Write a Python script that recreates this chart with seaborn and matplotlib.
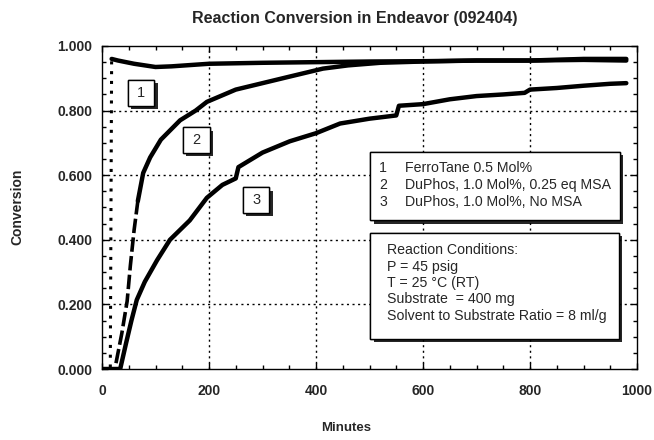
import numpy as np
import pandas as pd
import matplotlib
matplotlib.use("Agg")
import matplotlib.pyplot as plt
import matplotlib.patheffects as pe
from matplotlib.patches import Rectangle
from matplotlib.ticker import MultipleLocator
import seaborn as sns

sns.set_style("ticks")
plt.rcParams["font.family"] = ["Liberation Sans", "DejaVu Sans"]

# curve 1: FerroTane 0.5 Mol%
t1_rise = [0, 15, 15.5, 18]
c1_rise = [0.0, 0.0, 0.0, 0.96]
t1 = [18, 30, 60, 100, 130, 200, 300, 400, 500, 600, 700, 800, 900, 980]
c1 = [0.96, 0.955, 0.945, 0.935, 0.937, 0.945, 0.948, 0.95, 0.952, 0.953, 0.955, 0.955, 0.957, 0.955]

# curve 2: DuPhos, 1.0 Mol%, 0.25 eq MSA
t2 = [0, 24, 37, 47, 53, 60, 67, 77, 90, 110, 146, 175, 196, 250, 300, 350, 413, 460, 520,
      600, 700, 800, 900, 980]
c2 = [0.0, 0.0, 0.11, 0.21, 0.32, 0.43, 0.52, 0.607, 0.655, 0.71, 0.77, 0.80, 0.827, 0.865,
      0.885, 0.905, 0.93, 0.94, 0.948, 0.952, 0.955, 0.955, 0.96, 0.96]

# curve 3: DuPhos, 1.0 Mol%, No MSA
t3 = [0, 34, 45, 55, 65, 80, 103, 127, 164, 196, 225, 250, 255, 300, 351, 400, 445, 500, 550,
      555, 600, 650, 700, 750, 790, 800, 850, 900, 950, 980]
c3 = [0.0, 0.0, 0.08, 0.15, 0.214, 0.27, 0.337, 0.40, 0.46, 0.53, 0.57, 0.59, 0.625, 0.67, 0.705,
      0.73, 0.76, 0.775, 0.785, 0.815, 0.82, 0.835, 0.845, 0.85, 0.855, 0.865, 0.87, 0.877, 0.883,
      0.885]

legend_lines = ["FerroTane 0.5 Mol%", "DuPhos, 1.0 Mol%, 0.25 eq MSA", "DuPhos, 1.0 Mol%, No MSA"]
conditions = ["Reaction Conditions:", "P = 45 psig", "T = 25 \u00b0C (RT)",
              "Substrate  = 400 mg", "Solvent to Substrate Ratio = 8 ml/g"]
tag_x = [73, 176, 288]
tag_y = [0.855, 0.709, 0.523]

fig = plt.figure(figsize=(6.54, 4.4), dpi=100)
ax = fig.add_axes([102 / 654, 71 / 440, 535 / 654, 323 / 440])

# dotted grid
for v in [200, 400, 600, 800]:
    ax.axvline(v, color="black", ls=(0, (1.5, 2.5)), lw=1, zorder=1)
for v in [0.2, 0.4, 0.6, 0.8]:
    ax.axhline(v, color="black", ls=(0, (1.5, 2.5)), lw=1, zorder=1)

df1 = pd.DataFrame({"t": t1, "c": c1})
df1r = pd.DataFrame({"t": t1_rise, "c": c1_rise})
df2 = pd.DataFrame({"t": t2, "c": c2})
df3 = pd.DataFrame({"t": t3, "c": c3})

sns.lineplot(data=df1r, x="t", y="c", ax=ax, color="black", lw=2.2, ls=(0, (1, 2.2)),
             sort=False, estimator=None, zorder=3)
sns.lineplot(data=df1, x="t", y="c", ax=ax, color="black", lw=3.2,
             sort=False, estimator=None, zorder=3)
sns.lineplot(data=df2[df2["t"] <= 67], x="t", y="c", ax=ax, color="black", lw=2.6,
             ls=(0, (4, 1.2)), sort=False, estimator=None, zorder=3)
sns.lineplot(data=df2[df2["t"] >= 67], x="t", y="c", ax=ax, color="black", lw=3.2,
             sort=False, estimator=None, zorder=3)
sns.lineplot(data=df3, x="t", y="c", ax=ax, color="black", lw=3.2,
             sort=False, estimator=None, zorder=3)

ax.set_xlim(0, 1000)
ax.set_ylim(0, 1.0)
ax.xaxis.set_major_locator(MultipleLocator(200))
ax.xaxis.set_minor_locator(MultipleLocator(50))
ax.yaxis.set_major_locator(MultipleLocator(0.2))
ax.yaxis.set_minor_locator(MultipleLocator(0.05))
ax.set_yticklabels([f"{v:.3f}" for v in ax.get_yticks()])
ax.tick_params(which="both", direction="in", top=True, right=True, color="black")
ax.tick_params(which="major", length=4, width=1)
ax.tick_params(which="minor", length=3, width=1)
ax.tick_params(axis="x", pad=11)
ax.tick_params(axis="y", pad=7)
for lab in ax.get_xticklabels() + ax.get_yticklabels():
    lab.set_fontweight("bold")
    lab.set_fontsize(10)
for s in ax.spines.values():
    s.set_color("black")
    s.set_linewidth(1)
ax.set_xlabel("")
ax.set_ylabel("")

shadow = [pe.withSimplePatchShadow(offset=(2.5, -2.5), shadow_rgbFace="black", alpha=0.85),
          pe.Normal()]

# numbered tags
for i, (x, y) in enumerate(zip(tag_x, tag_y)):
    r = Rectangle((x - 25, y - 0.04), 50, 0.08, fc="white", ec="black", lw=1, zorder=5)
    r.set_path_effects(shadow)
    ax.add_patch(r)
    ax.text(x, y, str(i + 1), ha="center", va="center", fontsize=10.5, zorder=6)

# legend box
lb = Rectangle((0.501, 0.461), 0.467, 0.211, transform=ax.transAxes, fc="white", ec="black",
               lw=1, zorder=5)
lb.set_path_effects(shadow)
ax.add_patch(lb)
for i, s in enumerate(legend_lines):
    yy = (369 - (168 + 17 * i)) / 323
    ax.text((383 - 102) / 535, yy, str(i + 1), transform=ax.transAxes, fontsize=10.2,
            ha="center", va="center", zorder=6)
    ax.text((405 - 102) / 535, yy, s, transform=ax.transAxes, fontsize=10.2,
            ha="left", va="center", zorder=6)

# conditions box
cb = Rectangle((0.501, 0.093), 0.465, 0.328, transform=ax.transAxes, fc="white", ec="black",
               lw=1, zorder=5)
cb.set_path_effects(shadow)
ax.add_patch(cb)
for i, s in enumerate(conditions):
    yy = (369 - (250 + 16.5 * i)) / 323
    ax.text((387 - 102) / 535, yy, s, transform=ax.transAxes, fontsize=10.2,
            ha="left", va="center", zorder=6)

fig.text(355 / 654, 1 - 18 / 440, "Reaction Conversion in Endeavor (092404)",
         ha="center", va="center", fontsize=11.5, fontweight="bold")
fig.text(17 / 654, 1 - 207 / 440, "Conversion", rotation=90, ha="center", va="center",
         fontsize=10, fontweight="bold")
fig.text(346 / 654, 1 - 428 / 440, "Minutes", ha="center", va="center",
         fontsize=9.5, fontweight="bold")

fig.savefig("out.png", dpi=100)
